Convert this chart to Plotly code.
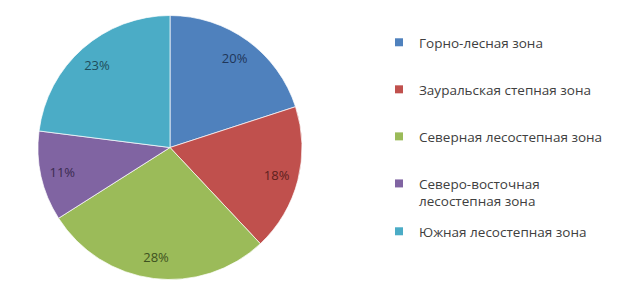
import plotly.graph_objects as go

categories = ["Горно-лесная зона", "Зауральская степная зона", "Северная лесостепная зона",
              "Северо-восточная<br>лесостепная зона", "Южная лесостепная зона"]
values = [20, 18, 28, 11, 23]
colors = ["#4F81BD", "#C0504D", "#9BBB59", "#8064A2", "#4BACC6"]
text_colors = ["#1F3659", "#5E1F1D", "#3E5220", "#3A2A50", "#1E4E5C"]

FONT = "Open Sans"
W, H = 620, 294
cx, cy, R = 170, 147.5, 132
dom = dict(x=[(cx - R) / W, (cx + R) / W], y=[(H - cy - R) / H, (H - cy + R) / H])

fig = go.Figure()
fig.add_trace(go.Pie(
    labels=categories, values=values, sort=False, direction="clockwise", rotation=0,
    marker=dict(colors=colors, line=dict(color="rgba(255,255,255,0.7)", width=1)),
    textinfo="none", domain=dom, showlegend=False, hoverinfo="label+percent",
))
# percentage labels placed in an outer ring (transparent overlay)
fig.add_trace(go.Pie(
    labels=categories, values=values, sort=False, direction="clockwise", rotation=0, hole=0.67,
    marker=dict(colors=["rgba(0,0,0,0)"] * len(values), line=dict(width=0)),
    textinfo="percent", textposition="inside", insidetextorientation="horizontal",
    textfont=dict(family=FONT, size=13, color=text_colors),
    domain=dom, showlegend=False, hoverinfo="skip",
))

legend_names = ["legend", "legend", "legend", "legend", "legend2"]
for name, col, lg in zip(categories, colors, legend_names):
    fig.add_trace(go.Scatter(
        x=[None], y=[None], mode="markers", name=name, legend=lg,
        marker=dict(symbol="square", size=8, color=col),
        legendgroup=name,
    ))

LX = 379 / W
LFONT = dict(family=FONT, size=13.5, color="#404040")
fig.update_layout(
    width=W, height=H, margin=dict(l=0, r=0, t=0, b=0),
    paper_bgcolor="white", plot_bgcolor="white",
    xaxis=dict(visible=False), yaxis=dict(visible=False),
    font=dict(family=FONT, size=13, color="#404040"),
    legend=dict(x=LX, y=1 - 27 / H, xanchor="left", yanchor="top",
                tracegroupgap=26.5, valign="top", itemwidth=30,
                font=LFONT, bgcolor="rgba(0,0,0,0)"),
    legend2=dict(x=LX, y=1 - 216 / H, xanchor="left", yanchor="top", valign="top", itemwidth=30,
                 font=LFONT, bgcolor="rgba(0,0,0,0)"),
)
fig.write_html("out.html", config={"displayModeBar": False},
               post_script="document.body.style.margin='0';")
